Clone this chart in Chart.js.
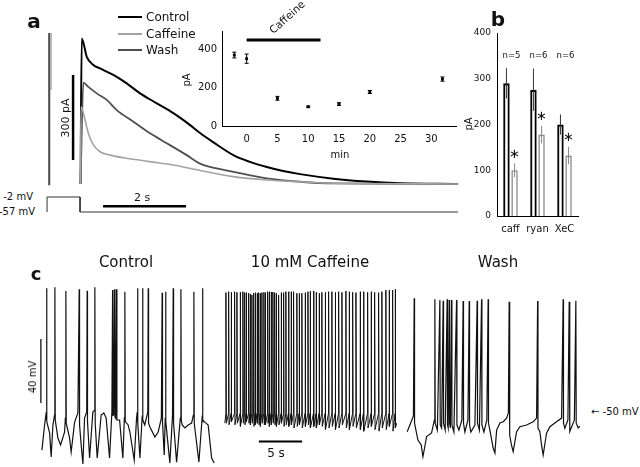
<!DOCTYPE html>
<html>
<head>
<meta charset="utf-8">
<title>Caffeine and tail currents</title>
<script src="https://cdn.jsdelivr.net/npm/chart.js@4.4.1/dist/chart.umd.min.js"></script>
<style>
  body { margin: 0; background: #fff; font-family: "DejaVu Sans", sans-serif; color: #111; }
  #fig { position: relative; width: 640px; height: 467px; overflow: hidden; }
  #fig canvas { position: absolute; }
  .lbl { position: absolute; white-space: nowrap; line-height: 1; transform: translate(-50%, -50%); }
  .l { transform: translate(0, -50%); }
  .r { transform: translate(-100%, -50%); }
  .rot { transform: translate(-50%, -50%) rotate(-90deg); }
  .panel { font-weight: bold; font-size: 20px; }
  .key { position: absolute; width: 24px; }
</style>
</head>
<body>
<div id="fig">
  <canvas id="tails" width="420" height="222" style="left:40px;top:0"></canvas>
  <canvas id="timecourse" width="280" height="150" style="left:180px;top:20px"></canvas>
  <canvas id="summary" width="200" height="240" style="left:440px;top:0"></canvas>
  <canvas id="vmCtrl" width="180" height="190" style="left:35px;top:280px"></canvas>
  <canvas id="vmCaff" width="180" height="190" style="left:221px;top:280px"></canvas>
  <canvas id="vmWash" width="180" height="190" style="left:402px;top:280px"></canvas>

  <!-- panel a -->
  <div class="lbl panel" style="left:34px;top:21px">a</div>
  <div class="key" style="left:118px;top:16px;height:2px;background:#000"></div>
  <div class="key" style="left:118px;top:33px;height:2px;background:#a3a3a3"></div>
  <div class="key" style="left:118px;top:49px;height:2px;background:#505050"></div>
  <div class="lbl l" style="left:146px;top:17px;font-size:12px">Control</div>
  <div class="lbl l" style="left:146px;top:34px;font-size:12px">Caffeine</div>
  <div class="lbl l" style="left:146px;top:50px;font-size:12px">Wash</div>
  <div class="lbl r" style="left:33px;top:197px;font-size:10px">-2 mV</div>
  <div class="lbl r" style="left:35px;top:212px;font-size:10px">-57 mV</div>
  <div class="lbl rot" style="left:65px;top:118px;font-size:11px">300 pA</div>
  <div class="lbl" style="left:142px;top:197px;font-size:11px">2 s</div>
  <div class="lbl rot" style="left:187px;top:80px;font-size:10px">pA</div>
  <div class="lbl" style="left:340px;top:155px;font-size:10px">min</div>
  <div class="lbl" style="left:287px;top:17px;font-size:10.5px;transform:translate(-50%,-50%) rotate(-42deg)">Caffeine</div>

  <!-- panel b -->
  <div class="lbl panel" style="left:498px;top:19px">b</div>
  <div class="lbl rot" style="left:469px;top:124px;font-size:10px">pA</div>

  <!-- panel c -->
  <div class="lbl panel" style="left:36px;top:274px;font-size:18px">c</div>
  <div class="lbl" style="left:126px;top:262px;font-size:15px">Control</div>
  <div class="lbl" style="left:310px;top:262px;font-size:15px">10 mM Caffeine</div>
  <div class="lbl" style="left:498px;top:262px;font-size:15px">Wash</div>
  <div class="lbl rot" style="left:33px;top:377px;font-size:10px">40 mV</div>
  <div class="lbl" style="left:276px;top:453px;font-size:12px">5 s</div>
  <div class="lbl l" style="left:591px;top:412px;font-size:10px">← -50 mV</div>
</div>

<script>
// ---------- panel a: tail currents, [time s, current pA] ----------
const ctrlTail = [[0.807,0],[0.836,514],[0.957,449],[1.116,420],[1.277,408],[1.598,385],[1.92,355],
  [2.241,320],[2.643,285],[3.043,250],[3.446,208],[3.687,180],[4.0,148],[4.489,102],[4.892,78],
  [5.294,60],[5.687,46],[6.096,35],[6.899,19],[7.70,9],[8.506,3],[9.904,0]];
const washTail = [[0.807,0],[0.875,358],[0.995,343],[1.198,320],[1.439,297],[1.68,261],[2.08,220],
  [2.482,179],[2.884,144],[3.366,102],[3.687,72],[4.088,55],[4.489,43],[5.294,20],[6.096,8],[6.899,2],[9.904,0]];
const caffTail = [[0.807,0],[0.819,273],[0.916,226],[0.995,179],[1.116,138],[1.277,114],[1.518,102],
  [1.92,91],[2.482,79],[3.043,67],[3.687,48],[4.489,26],[5.294,14],[6.096,8],[6.899,3],[9.904,0]];
// capacitive transients at the start of the step (off scale)
const ctrlTransient = [[0.048,-4],[0.048,533]];
const washTransient = [[0.06,-4],[0.06,533]];
const caffTransient = [[0.096,533],[0.096,332]];
// voltage protocol, [time s, mV]
const stepCmd = [[0,-57],[0,-2],[0.795,-2],[0.795,-57],[9.9,-57]];
// scale bars
const currentBar = [[0.627,85],[0.627,385]];   // 300 pA
const timeBar = [[1.35,-78],[3.35,-78]];        // 2 s

// ---------- panel a inset: amplitude vs time ----------
const minutes = [-2, 0, 5, 10, 15, 20, 31.8];
const amps = [369, 350, 144, 100, 114, 177, 244];
const ampErr = [15, 24, 10, 4, 7, 8, 11];
const minuteTicks = [0, 5, 10, 15, 20, 25, 30];
const ampTicks = [0, 200, 400];
const caffeineOn = [0, 12];
const caffeineBarLevel = 447;

// ---------- panel b: summary ----------
const agents = ['caff', 'ryan', 'XeC'];
const ctrlMeans = [290, 276, 200];
const ctrlErr = [33, 46, 22];
const drugMeans = [100, 178, 132];
const drugErr = [15, 19, 19];
const nLabels = ['n=5', 'n=6', 'n=6'];
const summaryTicks = [0, 100, 200, 300, 400];

// ---------- panel c: membrane potential, [time s, mV] ----------
const ctrlSub = [[0.20,-73.8],[0.51,-58.1],[0.70,-50],[1.09,-63.1],[1.27,-78.1],[1.47,-58.1],[1.66,-52],
  [2.05,-66.3],[2.36,-70.6],[2.82,-62.5],[2.91,-53.8],[3.40,-66.3],[3.58,-75],[3.98,-56.3],[4.36,-50.6],
  [4.74,-70.6],[4.94,-82.5],[5.13,-53.8],[5.38,-50],[5.71,-78.8],[6.09,-50],[6.28,-49],
  [6.59,-78.8],[7.05,-51.9],[7.36,-50.6],[7.63,-53.8],[8.02,-78.8],[8.29,-50],[8.49,-51.9],[8.72,-53.8],
  [9.18,-55],[9.56,-78.8],[9.73,-53.8],[10.17,-58.1],[10.37,-62.5],[10.87,-80],[11.14,-53.8],[11.22,-50],
  [11.53,-78.8],[11.78,-53.8],[12.09,-58.1],[12.44,-50],[12.69,-59.4],[13.26,-65.6],[13.64,-62.5],
  [14.01,-53.8],[14.34,-76.9],[14.45,-55],[14.99,-81.9],[15.30,-51.9],[15.77,-81.3],[16.20,-53.8],
  [16.42,-58.1],[16.73,-60],[17.11,-58.1],[17.50,-56.9],[17.71,-51.9],[18.35,-81.3],[18.72,-53.8],
  [19.04,-56.3],[19.42,-58.1],[19.82,-78.8],[20.12,-81.9]];
const ctrlSpikeTimes = [0.74,1.70,2.97,4.51,5.43,6.32,8.37,8.60,8.83,9.79,11.26,11.84,12.49,14.10,14.50,15.38,16.27,17.77,18.77];
const ctrlPeaks = [27.3,27.9,25.6,26.7,25.8,27.9,26.3,26.7,26.7,25.2,27.3,27.3,27.3,24.6,25.2,27.3,26.7,25.2,27.3];
const ctrlAfter = [-56,-55,-57,-58,-56,-57,-52,-53,-55,-56,-57,-55,-57,-56,-56,-57,-55,-57,-55];

const caffSpikeTimes = [-0.03,0.28,0.58,0.97,1.24,1.62,1.93,2.13,2.31,2.59,2.77,2.97,3.17,3.35,3.58,3.75,
  3.93,4.13,4.36,4.51,4.79,4.97,5.20,5.40,5.60,5.78,6.06,6.36,6.64,6.90,7.21,7.51,7.79,8.17,8.44,8.75,
  9.13,9.45,9.71,10.10,10.40,10.75,11.06,11.45,11.84,12.22,12.61,13.00,13.38,13.84,14.22,14.62,15.00,
  15.49,15.88,16.35,16.76,17.16,17.62,18.00,18.46,18.84,19.24,19.54];
const caffPeaks = [24.6,25.2,24.8,25.2,24.8,25.0,25.2,24.6,24.6,24.2,
  23.8,23.1,24.2,24.6,24.2,24.6,24.2,24.6,24.8,24.6,
  25.2,25.2,25.0,25.0,24.6,24.2,23.1,24.6,24.6,25.2,
  25.2,25.2,25.2,24.2,24.2,24.2,24.6,25.2,25.6,25.6,
  24.8,24.2,24.8,24.8,25.2,25.2,24.8,25.2,24.8,25.6,
  25.2,24.8,24.6,25.2,25.2,24.8,25.2,24.8,24.6,25.2,
  26.2,26.2,26.2,26.7];
const caffTroughs = [-57,-58,-56,-58,-57,-59,-57,-58,-56,-57,
  -58,-57,-59,-58,-57,-58,-59,-57,-58,-58,
  -57,-59,-58,-57,-58,-59,-58,-57,-59,-58,
  -59,-58,-60,-59,-58,-60,-59,-58,-60,-59,
  -60,-58,-59,-61,-60,-59,-61,-60,-58,-60,
  -61,-59,-60,-61,-62,-60,-59,-61,-62,-60,
  -61,-59,-62,-60];
const caffThreshold = -51;

const washSub = [[0.00,-62.3],[0.46,-56.1],[0.72,-52.5],[1.24,-67.5],[1.62,-70.6],[1.82,-77.9],[2.01,-72.5],
  [2.24,-65.4],[2.82,-63.1],[3.14,-55],[3.49,-61.3],[3.98,-60],[4.39,-61.3],[4.74,-60],[4.99,-60],
  [5.40,-62.5],[5.98,-61.3],[6.32,-55],[6.67,-62.5],[7.02,-55],[7.36,-62.5],[7.83,-58.1],[8.35,-61.3],
  [8.87,-62.5],[9.21,-55],[9.56,-61.3],[9.94,-72.5],[10.14,-75.6],[10.34,-61.3],[10.72,-56.9],
  [11.10,-56.1],[11.49,-53.8],[11.70,-50.6],[11.87,-64.4],[12.05,-70.6],[12.25,-74.8],[12.65,-62.3],
  [13.03,-59.2],[13.80,-58.1],[14.57,-56.1],[14.96,-53.8],[15.34,-62.3],[15.53,-70.6],[15.72,-76.9],
  [16.11,-63.3],[16.50,-59.2],[17.27,-56.1],[17.85,-53.8],[18.23,-60.2],[18.58,-55],[18.82,-62.3],
  [19.33,-55],[19.77,-60],[19.97,-58.8]];
const washSpikeTimes = [0.81,3.20,3.78,4.16,4.62,4.86,5.13,5.71,6.47,7.17,8.09,8.60,9.36,11.79,15.08,18.03,18.73,19.50];
const washPeaks = [21.1,20.4,20.0,19.6,20.4,20.0,20.0,20.0,19.4,19.4,19.6,20.4,20.4,18.9,19.4,20.4,18.9,19.6];
const washAfter = [-57,-57,-58,-57,-58,-57,-58,-58,-57,-58,-57,-58,-57,-60,-60,-57,-58,-57];

const voltBar = [[0.08,-4.4],[0.08,-44.4]];    // 40 mV
const secBar = [[3.78,-68.5],[8.78,-68.5]];    // 5 s

// ---------- helpers ----------
const xy = arr => arr.map(p => ({ x: p[0], y: p[1] }));

// subthreshold points + spikes (peak, then the level reached right after)
function withSpikes(sub, times, peaks, after) {
  const pts = sub.slice();
  times.forEach((t, i) => { pts.push([t, peaks[i]], [t + 0.04, after[i]]); });
  return xy(pts.sort((a, b) => a[0] - b[0]));
}

function line(data, color, width, axis) {
  return { data: data, borderColor: color, borderWidth: width, pointRadius: 0,
           yAxisID: axis || 'y', tension: 0 };
}

function smooth(data, color, width) {
  const ds = line(data, color, width);
  ds.cubicInterpolationMode = 'monotone';
  return ds;
}

const errorBars = {
  id: 'errorBars',
  afterDatasetsDraw(chart) {
    const ctx = chart.ctx;
    chart.data.datasets.forEach((ds, i) => {
      if (!ds.errors) return;
      const meta = chart.getDatasetMeta(i);
      const ys = chart.scales[meta.yAxisID];
      ctx.save();
      ctx.strokeStyle = ds.errorColor || '#000';
      ctx.lineWidth = ds.errorWidth || 1;
      meta.data.forEach((el, j) => {
        const raw = ds.data[j];
        const v = typeof raw === 'object' ? raw.y : raw;
        const top = ys.getPixelForValue(v + ds.errors[j]);
        const bot = ys.getPixelForValue(v - ds.errors[j]);
        const cap = ds.errorCap || 0;
        ctx.beginPath();
        ctx.moveTo(el.x, top); ctx.lineTo(el.x, bot);
        if (cap) {
          ctx.moveTo(el.x - cap, top); ctx.lineTo(el.x + cap, top);
          ctx.moveTo(el.x - cap, bot); ctx.lineTo(el.x + cap, bot);
        }
        ctx.stroke();
        if (ds.stars) {
          ctx.fillStyle = '#111';
          ctx.font = '13px "DejaVu Sans"';
          ctx.textAlign = 'center';
          ctx.textBaseline = 'middle';
          ctx.fillText('\u2217', el.x, top - 9);
        }
      });
      ctx.restore();
    });
  }
};

const groupNotes = {
  id: 'groupNotes',
  afterDraw(chart, args, opts) {
    if (!opts.labels) return;
    const ctx = chart.ctx;
    ctx.save();
    ctx.fillStyle = '#111';
    ctx.font = '8.5px "DejaVu Sans"';
    ctx.textAlign = 'center';
    ctx.textBaseline = 'middle';
    opts.labels.forEach((txt, j) => {
      ctx.fillText(txt, chart.scales.x.getPixelForValue(j) + 1, chart.scales.y.getPixelForValue(opts.level));
    });
    ctx.restore();
  }
};

Chart.defaults.font.family = '"DejaVu Sans", sans-serif';
Chart.defaults.color = '#111';

const baseOpts = {
  responsive: false,
  animation: false,
  devicePixelRatio: 1,
  plugins: { legend: { display: false }, tooltip: { enabled: false } }
};

// ---------- panel a traces ----------
new Chart(document.getElementById('tails'), {
  type: 'line',
  data: { datasets: [
    line(xy(caffTransient), '#a3a3a3', 1.4),
    line(xy(washTransient), '#505050', 1.4),
    line(xy(ctrlTransient), '#222', 1.4),
    smooth(xy(caffTail), '#a3a3a3', 1.6),
    smooth(xy(washTail), '#505050', 1.8),
    smooth(xy(ctrlTail), '#000', 2),
    line(xy(stepCmd), '#333', 1, 'mv'),
    line(xy(currentBar), '#000', 2.5),
    line(xy(timeBar), '#000', 2.5)
  ]},
  options: Object.assign({}, baseOpts, {
    layout: { padding: 0 },
    scales: {
      x: { type: 'linear', display: false, min: -0.17, max: 9.95 },
      y: { type: 'linear', display: false, min: -134, max: 649.5 },
      mv: { type: 'linear', display: false, min: -93.7, max: 720.3 }
    }
  })
});

// ---------- panel a inset ----------
new Chart(document.getElementById('timecourse'), {
  type: 'scatter',
  data: { datasets: [
    { data: minutes.map((m, i) => ({ x: m, y: amps[i] })), errors: ampErr, errorCap: 2,
      pointStyle: 'rect', pointRadius: 2, backgroundColor: '#000', borderColor: '#000', borderWidth: 0 },
    { data: caffeineOn.map(m => ({ x: m, y: caffeineBarLevel })), showLine: true,
      borderColor: '#000', borderWidth: 3, pointRadius: 0 }
  ]},
  options: Object.assign({}, baseOpts, {
    layout: { padding: { left: 0, right: 2, top: 11, bottom: 0 } },
    scales: {
      x: { type: 'linear', min: -4, max: 34, grid: { display: false, drawTicks: false },
           border: { color: '#000', width: 1 },
           ticks: { font: { size: 10 }, padding: 7, maxRotation: 0 },
           afterBuildTicks: s => { s.ticks = minuteTicks.map(v => ({ value: v })); },
           afterFit: s => { s.height = 44; } },
      y: { type: 'linear', min: 0, max: 494, grid: { display: false, drawTicks: false },
           border: { color: '#000', width: 1 },
           ticks: { font: { size: 10 }, padding: 5 },
           afterBuildTicks: s => { s.ticks = ampTicks.map(v => ({ value: v })); },
           afterFit: s => { s.width = 42; } }
    }
  }),
  plugins: [errorBars]
});

// ---------- panel b ----------
new Chart(document.getElementById('summary'), {
  type: 'bar',
  data: { labels: agents, datasets: [
    { data: ctrlMeans, errors: ctrlErr, errorColor: '#333', backgroundColor: '#fff', borderColor: '#000',
      borderWidth: 2.2, borderSkipped: 'start', categoryPercentage: 0.6, barPercentage: 0.8 },
    { data: drugMeans, errors: drugErr, errorColor: '#888', stars: true, backgroundColor: '#fff',
      borderColor: '#8a8a8a', borderWidth: 1.6, borderSkipped: 'start', categoryPercentage: 0.6, barPercentage: 0.8 }
  ]},
  options: Object.assign({}, baseOpts, {
    layout: { padding: { left: 0, right: 62, top: 33, bottom: 0 } },
    plugins: { legend: { display: false }, tooltip: { enabled: false },
               groupNotes: { labels: nLabels, level: 350 } },
    scales: {
      x: { grid: { display: false, drawTicks: false }, border: { color: '#000', width: 1 },
           ticks: { font: { size: 10 }, padding: 7, minRotation: 0, maxRotation: 0, autoSkip: false },
           afterFit: s => { s.height = 24; } },
      y: { min: 0, max: 400, grid: { display: false, drawTicks: false }, border: { color: '#000', width: 1 },
           ticks: { font: { size: 9 }, padding: 6 },
           afterBuildTicks: s => { s.ticks = summaryTicks.map(v => ({ value: v })); },
           afterFit: s => { s.width = 57; } }
    }
  }),
  plugins: [errorBars, groupNotes]
});

// ---------- panel c ----------
function vmChart(id, datasets) {
  return new Chart(document.getElementById(id), {
    type: 'line',
    data: { datasets: datasets },
    options: Object.assign({}, baseOpts, {
      layout: { padding: 0 },
      scales: {
        x: { type: 'linear', display: false, min: -0.6, max: 20.21 },
        y: { type: 'linear', display: false, min: -86.25, max: 32.5 }
      }
    })
  });
}

const caffTrace = [[-0.15, -57]];
caffSpikeTimes.forEach((t, i) => {
  caffTrace.push([t - 0.015, caffThreshold], [t, caffPeaks[i]], [t + 0.05, caffTroughs[i]]);
});
caffTrace.push([19.7, -57]);

vmChart('vmCtrl', [
  line(withSpikes(ctrlSub, ctrlSpikeTimes, ctrlPeaks, ctrlAfter), '#111', 1.2),
  line(xy(voltBar), '#000', 1.2)
]);
vmChart('vmCaff', [
  line(xy(caffTrace), '#111', 1),
  line(xy(secBar), '#000', 2)
]);
vmChart('vmWash', [
  line(withSpikes(washSub, washSpikeTimes, washPeaks, washAfter), '#111', 1.2)
]);
</script>
</body>
</html>
